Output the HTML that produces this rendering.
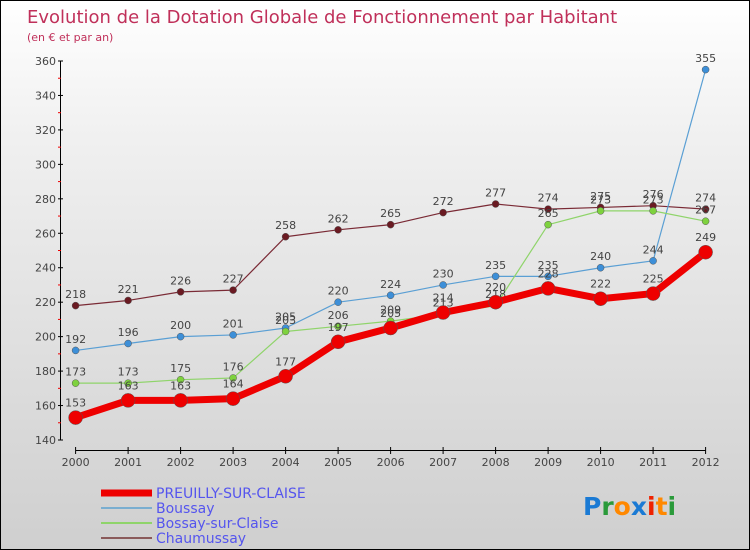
<!DOCTYPE html>
<html><head><meta charset="utf-8"><style>
html,body{margin:0;padding:0}
body{width:750px;height:550px;overflow:hidden;font-family:"DejaVu Sans","Liberation Sans",sans-serif}
#wrap{position:relative;width:748px;height:548px;border:1px solid #000;background:linear-gradient(#ffffff,#f0f0f0 25%,#cfcfcf)}
</style></head><body>
<div id="wrap">
<svg id="chart" width="748" height="548" style="position:absolute;left:0;top:0"></svg>
</div>
<script>
const years=["2000","2001","2002","2003","2004","2005","2006","2007","2008","2009","2010","2011","2012"];
const preuilly=[153,163,163,164,177,197,205,214,220,228,222,225,249];
const boussay=[192,196,200,201,205,220,224,230,235,235,240,244,355];
const bossay=[173,173,175,176,203,206,209,213,218,265,273,273,267];
const chaumussay=[218,221,226,227,258,262,265,272,277,274,275,276,274];
const yTicks=[140,160,180,200,220,240,260,280,300,320,340,360];
const NS="http://www.w3.org/2000/svg";
const svg=document.getElementById('chart');
function X(i){return 74.6+i*52.5;}
function Y(v){return 439-(v-140)*(379/220);}
function mk(tag,attrs,parent){const e=document.createElementNS(NS,tag);for(const k in attrs)e.setAttribute(k,attrs[k]);(parent||svg).appendChild(e);return e;}
function txt(x,y,s,attrs){const t=mk('text',Object.assign({x:x,y:y},attrs));t.textContent=s;return t;}
// title
let t=txt(26,22,"Evolution de la Dotation Globale de Fonctionnement par Habitant",{fill:"#c0305a","font-size":"18"});

t=txt(26,40,"(en € et par an)",{fill:"#c0305a","font-size":"11"});

// y axis
let a=mk('line',{x1:59.5,y1:Y(360),x2:59.5,y2:Y(140),stroke:"#000"});

yTicks.forEach(v=>{
  mk('line',{x1:57,x2:62,y1:Y(v),y2:Y(v),stroke:"#000"});
  if(v<360)mk('line',{x1:57,x2:60,y1:Y(v+10),y2:Y(v+10),stroke:"#e00"});
  const l=txt(55,Y(v)+4,String(v),{"text-anchor":"end","font-size":"11",fill:"#444"});
  
});
a=mk('line',{x1:X(0),x2:X(12),y1:449.5,y2:449.5,stroke:"#000"});

years.forEach((yr,i)=>{
  mk('line',{x1:X(i),x2:X(i),y1:446,y2:453,stroke:"#000"});
  const l=txt(X(i),465,yr,{"text-anchor":"middle","font-size":"11",fill:"#444"});
  
});
function series(vals,color,w,r,name,dotFill){
  const g=mk('g',{});
  
  
  const p=mk('polyline',{points:vals.map((v,i)=>X(i)+","+Y(v)).join(" "),fill:"none",stroke:color,"stroke-width":w,"stroke-linejoin":"round"},g);
  vals.forEach((v,i)=>{
    const c=mk('circle',{cx:X(i),cy:Y(v),r:r,fill:dotFill,stroke:"#555","stroke-width":0.5},g);
    
    
    const l=txt(X(i),Y(v)-(r+4),String(v),{"text-anchor":"middle","font-size":"11",fill:"#444"},g);
    g.appendChild(l);
    
    
  });
}
series(chaumussay,"#7a2a35",1.2,3.5,"series-chaumussay","#6a1a22");
series(boussay,"#5a9fd4",1.2,3.5,"series-boussay","#3d8fd8");
series(bossay,"#8fd46a",1.2,3.5,"series-bossay-sur-claise","#7ed23e");
series(preuilly,"#ee0000",7,7,"series-preuilly-sur-claise","#ee0000");
// legend
const leg=[["PREUILLY-SUR-CLAISE","#ee0000",7],["Boussay","#7aaed0",2],["Bossay-sur-Claise","#8fd46a",2],["Chaumussay","#8a5a5a",2]];
leg.forEach((e,i)=>{
  const y=492+i*15;
  const g=mk('g',{});
  
  
  mk('line',{x1:100,x2:151,y1:y,y2:y,stroke:e[1],"stroke-width":e[2]},g);
  const l=txt(155,y+5,e[0],{"font-size":"14",fill:"#5555ee"},g);g.appendChild(l);
});
// logo
const logo=mk('text',{x:582,y:514,"font-size":"25","font-weight":"bold"});


[["P","#1a7ad4"],["r","#2a9a3a"],["o","#ff8800"],["x","#1a7ad4"],["i","#ee2200"],["t","#ff8800"],["i","#2a9a3a"]].forEach(c=>{const s=mk('tspan',{fill:c[1]},logo);s.textContent=c[0];});
</script>
</body></html>
